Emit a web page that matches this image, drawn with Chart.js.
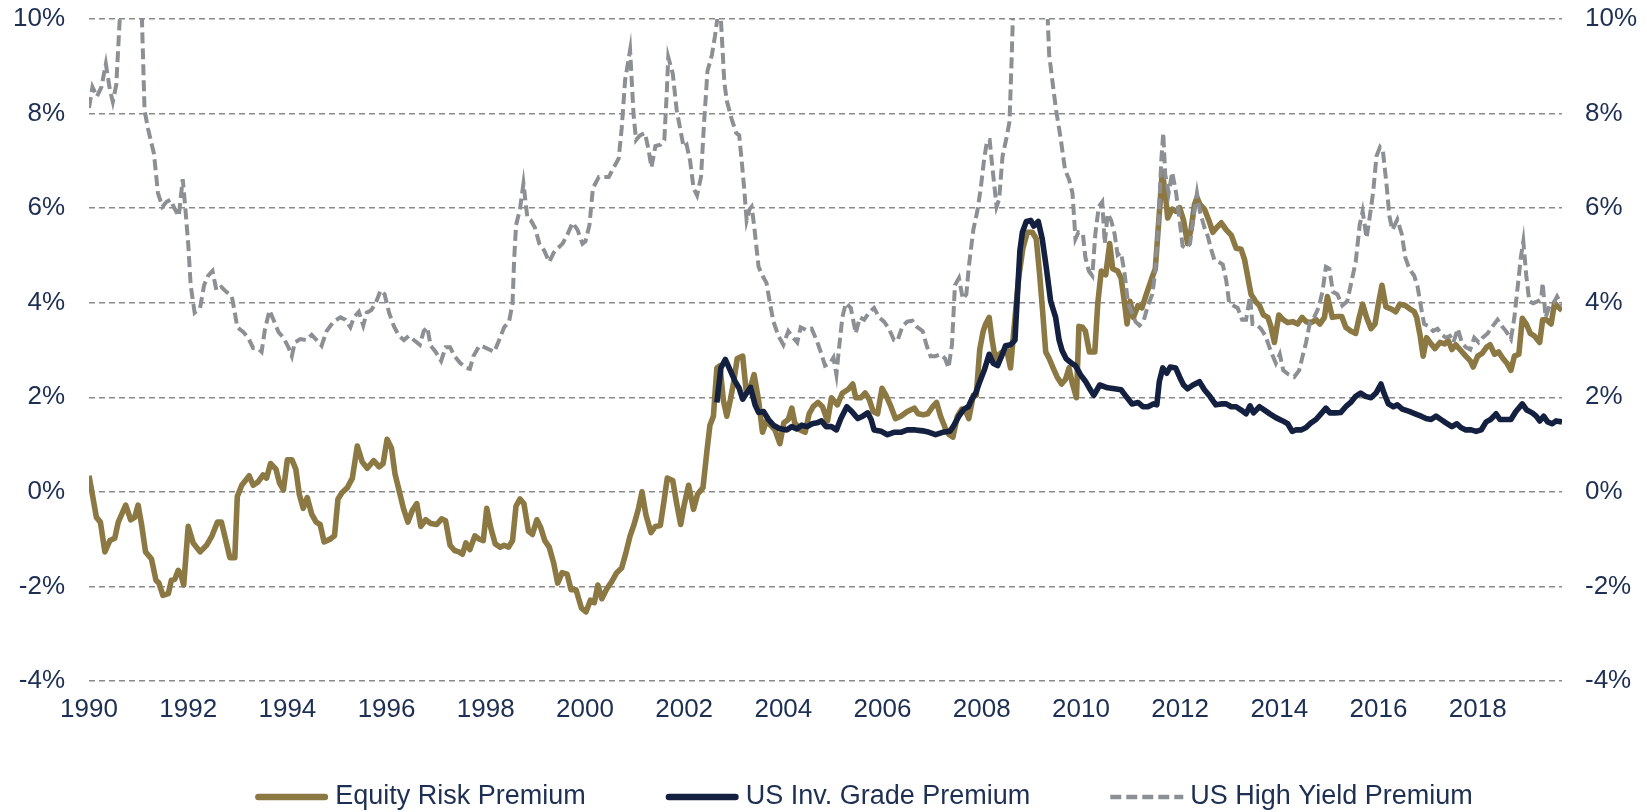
<!DOCTYPE html>
<html>
<head>
<meta charset="utf-8">
<script src="https://cdn.jsdelivr.net/npm/chart.js@4.4.1/dist/chart.umd.min.js"></script>
<style>
  html, body { margin: 0; padding: 0; background: #ffffff; }
  #wrap { width: 1647px; height: 812px; position: relative; }
</style>
</head>
<body>
<div id="wrap"><canvas id="c"></canvas></div>
<script>
// ---- DATA ([decimal year, percent]) ----
const seriesNames = ['Equity Risk Premium', 'US Inv. Grade Premium', 'US High Yield Premium'];

const equityRiskPremium = [
  [1990.00,0.34],[1990.05,0.05],[1990.15,-0.54],[1990.23,-0.64],[1990.32,-1.27],[1990.42,-1.03],[1990.52,-0.98],[1990.59,-0.64],[1990.74,-0.28],[1990.84,-0.59],[1990.92,-0.54],[1990.99,-0.28],
  [1991.06,-0.69],[1991.14,-1.27],[1991.26,-1.42],[1991.35,-1.87],[1991.41,-1.93],[1991.49,-2.19],[1991.60,-2.15],[1991.66,-1.87],[1991.73,-1.85],[1991.80,-1.66],[1991.85,-1.74],[1991.91,-1.97],
  [1992.00,-0.73],[1992.10,-1.08],[1992.24,-1.27],[1992.37,-1.13],[1992.48,-0.93],[1992.59,-0.64],[1992.67,-0.64],[1992.76,-1.03],[1992.84,-1.39],[1992.94,-1.39],[1992.99,-0.10],
  [1993.08,0.14],[1993.23,0.34],[1993.31,0.14],[1993.41,0.21],[1993.51,0.36],[1993.58,0.29],[1993.66,0.60],[1993.77,0.48],[1993.84,0.19],[1993.92,0.04],
  [1994.00,0.68],[1994.09,0.68],[1994.17,0.48],[1994.24,-0.05],[1994.32,-0.35],[1994.40,-0.12],[1994.49,-0.47],[1994.58,-0.64],[1994.66,-0.69],[1994.74,-1.06],[1994.86,-1.00],[1994.95,-0.93],
  [1995.02,-0.15],[1995.10,-0.02],[1995.21,0.09],[1995.31,0.29],[1995.41,0.97],[1995.51,0.63],[1995.61,0.50],[1995.74,0.66],[1995.85,0.53],[1995.93,0.60],
  [1996.01,1.11],[1996.10,0.92],[1996.17,0.38],[1996.25,0.04],[1996.34,-0.35],[1996.43,-0.64],[1996.52,-0.39],[1996.61,-0.25],[1996.69,-0.73],[1996.79,-0.59],[1996.89,-0.67],
  [1997.01,-0.69],[1997.11,-0.57],[1997.19,-0.61],[1997.28,-1.13],[1997.37,-1.24],[1997.46,-1.27],[1997.53,-1.32],[1997.60,-1.08],[1997.68,-1.22],[1997.78,-0.93],[1997.87,-1.00],[1997.95,-1.03],
  [1998.02,-0.35],[1998.10,-0.76],[1998.19,-1.10],[1998.29,-1.17],[1998.37,-1.13],[1998.46,-1.17],[1998.54,-1.03],[1998.61,-0.30],[1998.69,-0.15],[1998.77,-0.25],[1998.86,-0.83],[1998.94,-0.90],
  [1999.03,-0.59],[1999.11,-0.76],[1999.19,-1.03],[1999.28,-1.17],[1999.37,-1.51],[1999.45,-1.93],[1999.54,-1.71],[1999.64,-1.74],[1999.72,-2.07],[1999.82,-2.07],[1999.93,-2.46],
  [2000.02,-2.54],[2000.11,-2.29],[2000.19,-2.34],[2000.26,-1.97],[2000.34,-2.26],[2000.44,-2.05],[2000.54,-1.90],[2000.64,-1.71],[2000.74,-1.61],[2000.83,-1.27],[2000.91,-0.93],[2000.99,-0.69],
  [2001.08,-0.35],[2001.15,0.00],[2001.23,-0.49],[2001.33,-0.86],[2001.42,-0.73],[2001.52,-0.71],[2001.60,-0.15],[2001.66,0.29],[2001.77,0.24],[2001.85,-0.25],[2001.93,-0.69],
  [2002.00,-0.28],[2002.09,0.14],[2002.19,-0.37],[2002.27,-0.05],[2002.38,0.09],[2002.46,0.87],[2002.52,1.41],[2002.59,1.60],[2002.66,2.62],[2002.72,2.67],[2002.79,1.94],[2002.86,1.60],[2002.93,1.94],
  [2003.00,2.33],[2003.07,2.82],[2003.18,2.87],[2003.25,2.14],[2003.33,2.19],[2003.41,2.48],[2003.50,1.94],[2003.58,1.26],[2003.66,1.50],[2003.74,1.41],[2003.83,1.31],[2003.93,1.02],
  [2004.01,1.46],[2004.10,1.53],[2004.17,1.77],[2004.23,1.46],[2004.34,1.31],[2004.44,1.26],[2004.52,1.65],[2004.60,1.80],[2004.70,1.89],[2004.79,1.80],[2004.89,1.50],[2004.97,1.99],
  [2005.09,1.84],[2005.19,2.09],[2005.30,2.16],[2005.40,2.28],[2005.46,1.99],[2005.56,1.99],[2005.65,2.09],[2005.73,1.96],[2005.81,1.70],[2005.90,1.65],[2005.99,2.19],
  [2006.07,2.04],[2006.17,1.80],[2006.26,1.55],[2006.37,1.60],[2006.50,1.70],[2006.64,1.77],[2006.72,1.65],[2006.82,1.63],[2006.91,1.65],
  [2007.01,1.80],[2007.09,1.89],[2007.17,1.60],[2007.26,1.36],[2007.34,1.21],[2007.42,1.16],[2007.51,1.60],[2007.60,1.75],[2007.68,1.70],[2007.74,1.55],[2007.83,2.04],[2007.89,2.04],[2007.96,3.01],
  [2008.03,3.40],[2008.08,3.55],[2008.15,3.69],[2008.21,3.21],[2008.28,2.77],[2008.35,2.91],[2008.42,2.96],[2008.50,3.01],[2008.58,2.62],[2008.63,3.21],[2008.68,3.79],[2008.75,4.57],[2008.83,5.15],[2008.92,5.49],
  [2009.02,5.49],[2009.10,5.35],[2009.17,4.57],[2009.23,3.79],[2009.29,2.96],[2009.36,2.82],[2009.44,2.62],[2009.52,2.43],[2009.61,2.28],[2009.69,2.38],[2009.76,2.62],[2009.83,2.28],[2009.91,1.99],[2009.96,3.50],
  [2010.03,3.48],[2010.09,3.40],[2010.17,2.96],[2010.28,2.96],[2010.34,3.99],[2010.41,4.67],[2010.50,4.59],[2010.58,5.25],[2010.64,4.72],[2010.74,4.67],[2010.81,4.52],[2010.88,3.99],[2010.93,3.55],[2010.99,4.03],
  [2011.06,3.69],[2011.15,3.94],[2011.23,3.89],[2011.32,4.18],[2011.42,4.49],[2011.50,4.72],[2011.57,5.74],[2011.64,6.76],[2011.70,6.32],[2011.75,5.79],[2011.84,5.98],[2011.92,5.93],[2011.99,6.01],
  [2012.07,5.74],[2012.15,5.25],[2012.22,5.54],[2012.29,6.08],[2012.34,6.22],[2012.40,6.08],[2012.49,5.98],[2012.58,5.74],[2012.66,5.49],[2012.74,5.59],[2012.83,5.69],[2012.93,5.54],
  [2013.03,5.43],[2013.13,5.15],[2013.23,5.13],[2013.30,4.91],[2013.36,4.57],[2013.43,4.18],[2013.52,4.03],[2013.60,3.94],[2013.68,3.74],[2013.77,3.69],[2013.83,3.50],[2013.90,3.16],[2013.99,3.74],
  [2014.08,3.64],[2014.17,3.58],[2014.27,3.60],[2014.37,3.55],[2014.46,3.69],[2014.54,3.60],[2014.64,3.58],[2014.74,3.64],[2014.82,3.55],[2014.91,3.69],[2014.97,4.13],
  [2015.07,3.69],[2015.17,3.71],[2015.26,3.71],[2015.34,3.48],[2015.44,3.40],[2015.54,3.35],[2015.61,3.69],[2015.68,3.97],[2015.76,3.69],[2015.85,3.45],[2015.93,3.55],
  [2016.00,3.99],[2016.07,4.37],[2016.15,3.91],[2016.25,3.87],[2016.35,3.81],[2016.43,3.97],[2016.54,3.94],[2016.63,3.87],[2016.72,3.81],[2016.77,3.69],[2016.84,3.30],[2016.90,2.87],[2016.97,3.26],
  [2017.06,3.13],[2017.14,3.03],[2017.24,3.16],[2017.33,3.13],[2017.41,3.19],[2017.48,3.01],[2017.56,3.11],[2017.66,2.99],[2017.76,2.87],[2017.85,2.77],[2017.91,2.64],
  [2018.00,2.87],[2018.09,2.93],[2018.18,3.06],[2018.25,3.11],[2018.34,2.91],[2018.42,2.96],[2018.51,2.82],[2018.59,2.72],[2018.67,2.57],[2018.74,2.87],[2018.83,2.91],[2018.90,3.67],[2018.98,3.55],
  [2019.06,3.35],[2019.14,3.30],[2019.25,3.16],[2019.31,3.64],[2019.38,3.64],[2019.48,3.55],[2019.55,3.99],[2019.62,3.91],[2019.70,3.84]
];

const usInvGradePremium = [
  [2002.66,1.89],[2002.74,2.62],[2002.83,2.80],[2002.93,2.57],
  [2003.03,2.33],[2003.11,2.19],[2003.18,1.96],[2003.26,2.09],[2003.34,2.21],[2003.43,1.84],[2003.50,1.68],[2003.60,1.70],[2003.70,1.53],[2003.80,1.41],[2003.92,1.34],
  [2004.07,1.31],[2004.17,1.38],[2004.27,1.33],[2004.37,1.41],[2004.48,1.38],[2004.58,1.44],[2004.68,1.46],[2004.77,1.50],[2004.86,1.38],[2004.97,1.38],
  [2005.07,1.31],[2005.16,1.55],[2005.28,1.80],[2005.38,1.70],[2005.50,1.55],[2005.60,1.60],[2005.70,1.67],[2005.77,1.53],[2005.83,1.31],[2005.97,1.28],
  [2006.10,1.21],[2006.23,1.26],[2006.37,1.26],[2006.50,1.31],[2006.66,1.31],[2006.81,1.29],[2006.94,1.26],
  [2007.07,1.21],[2007.21,1.26],[2007.36,1.28],[2007.44,1.41],[2007.54,1.60],[2007.64,1.75],[2007.73,1.80],[2007.80,1.96],[2007.88,2.09],[2007.96,2.33],
  [2008.05,2.57],[2008.15,2.91],[2008.23,2.72],[2008.32,2.67],[2008.40,2.87],[2008.48,3.09],[2008.58,3.11],[2008.67,3.21],[2008.72,4.18],[2008.77,5.10],[2008.82,5.49],[2008.90,5.72],[2008.99,5.74],
  [2009.05,5.62],[2009.14,5.72],[2009.22,5.35],[2009.30,4.76],[2009.39,4.03],[2009.49,3.69],[2009.56,3.21],[2009.62,2.99],[2009.70,2.82],[2009.81,2.72],[2009.89,2.67],[2009.99,2.48],
  [2010.09,2.34],[2010.19,2.16],[2010.26,2.04],[2010.38,2.26],[2010.54,2.20],[2010.68,2.18],[2010.81,2.16],[2010.91,2.02],
  [2011.03,1.86],[2011.15,1.89],[2011.25,1.80],[2011.35,1.80],[2011.46,1.86],[2011.53,1.84],[2011.58,2.33],[2011.65,2.62],[2011.73,2.51],[2011.80,2.64],[2011.91,2.62],[2011.99,2.43],
  [2012.07,2.26],[2012.15,2.18],[2012.26,2.26],[2012.39,2.33],[2012.49,2.16],[2012.60,2.02],[2012.72,1.84],[2012.83,1.86],[2012.93,1.86],
  [2013.03,1.80],[2013.13,1.80],[2013.23,1.73],[2013.33,1.65],[2013.41,1.82],[2013.48,1.67],[2013.60,1.80],[2013.70,1.73],[2013.81,1.65],[2013.93,1.57],
  [2014.07,1.50],[2014.17,1.44],[2014.26,1.28],[2014.34,1.31],[2014.44,1.31],[2014.54,1.36],[2014.64,1.46],[2014.74,1.53],[2014.84,1.65],[2014.94,1.77],
  [2015.02,1.67],[2015.13,1.67],[2015.24,1.68],[2015.34,1.80],[2015.44,1.89],[2015.54,2.02],[2015.64,2.09],[2015.74,2.02],[2015.85,1.99],[2015.95,2.09],
  [2016.05,2.28],[2016.11,2.09],[2016.20,1.86],[2016.30,1.80],[2016.38,1.84],[2016.48,1.75],[2016.62,1.70],[2016.74,1.65],[2016.86,1.60],[2016.96,1.55],
  [2017.06,1.53],[2017.16,1.60],[2017.26,1.53],[2017.36,1.46],[2017.48,1.38],[2017.58,1.44],[2017.66,1.36],[2017.76,1.31],[2017.87,1.31],[2017.97,1.28],
  [2018.07,1.31],[2018.17,1.48],[2018.26,1.53],[2018.37,1.65],[2018.45,1.53],[2018.56,1.53],[2018.67,1.53],[2018.77,1.70],[2018.90,1.86],[2018.99,1.73],
  [2019.10,1.67],[2019.18,1.60],[2019.25,1.50],[2019.33,1.60],[2019.41,1.48],[2019.50,1.44],[2019.58,1.50],[2019.70,1.48]
];

const usHighYieldPremium = [
  [1990.00,8.12],[1990.07,8.56],[1990.16,8.36],[1990.25,8.56],[1990.34,9.05],[1990.42,8.51],[1990.48,8.25],[1990.55,8.61],[1990.67,11.0],[1990.77,12.2],[1990.87,12.6],[1990.97,12.0],
  [1991.04,11.0],[1991.12,8.07],[1991.19,7.68],[1991.31,7.15],[1991.39,6.32],[1991.48,6.03],[1991.56,6.13],[1991.64,6.18],[1991.73,5.98],[1991.81,5.83],[1991.89,6.61],[1991.94,6.03],
  [1992.00,5.25],[1992.05,4.37],[1992.13,3.79],[1992.24,3.89],[1992.32,4.37],[1992.40,4.57],[1992.49,4.67],[1992.57,4.26],[1992.67,4.33],[1992.77,4.23],[1992.88,4.13],[1992.94,3.79],[1992.99,3.48],
  [1993.11,3.38],[1993.21,3.26],[1993.31,3.04],[1993.41,3.03],[1993.48,2.96],[1993.55,3.45],[1993.64,3.84],[1993.72,3.64],[1993.82,3.38],[1993.92,3.26],
  [1994.02,3.06],[1994.09,2.87],[1994.15,3.16],[1994.26,3.23],[1994.38,3.21],[1994.49,3.32],[1994.59,3.21],[1994.69,3.09],[1994.79,3.40],[1994.93,3.60],
  [1995.07,3.69],[1995.17,3.64],[1995.27,3.48],[1995.34,3.69],[1995.44,3.81],[1995.53,3.52],[1995.60,3.79],[1995.69,3.84],[1995.78,3.99],[1995.88,4.26],[1995.96,4.18],
  [1996.05,3.79],[1996.15,3.50],[1996.25,3.30],[1996.35,3.21],[1996.45,3.30],[1996.55,3.21],[1996.67,3.11],[1996.75,3.40],[1996.82,3.48],[1996.89,3.09],[1996.99,2.96],
  [1997.10,2.77],[1997.19,3.06],[1997.28,3.06],[1997.37,2.87],[1997.49,2.72],[1997.60,2.62],[1997.68,2.60],[1997.75,2.87],[1997.87,3.09],[1997.97,3.06],
  [1998.07,3.01],[1998.17,2.96],[1998.27,3.21],[1998.37,3.48],[1998.47,3.60],[1998.54,3.99],[1998.57,4.86],[1998.61,5.64],[1998.69,5.98],[1998.76,6.52],[1998.84,5.79],[1998.91,5.74],[1998.99,5.59],
  [1999.08,5.25],[1999.18,5.10],[1999.28,4.86],[1999.37,5.06],[1999.45,5.15],[1999.55,5.25],[1999.65,5.45],[1999.75,5.69],[1999.85,5.54],[1999.95,5.25],
  [2000.01,5.30],[2000.09,5.64],[2000.16,6.42],[2000.28,6.66],[2000.38,6.66],[2000.48,6.66],[2000.58,6.86],[2000.68,7.05],[2000.74,7.68],[2000.81,8.71],[2000.91,9.34],[2000.98,7.98],
  [2001.03,7.44],[2001.11,7.54],[2001.21,7.59],[2001.28,7.25],[2001.34,6.86],[2001.42,7.31],[2001.52,7.34],[2001.60,7.44],[2001.65,8.46],[2001.68,9.19],[2001.77,8.85],[2001.85,8.07],[2001.92,7.68],[2001.99,7.29],
  [2002.05,7.34],[2002.12,7.00],[2002.19,6.42],[2002.26,6.27],[2002.34,6.66],[2002.40,7.78],[2002.47,8.90],[2002.56,9.24],[2002.62,9.63],[2002.72,10.4],[2002.81,8.66],[2002.86,8.27],[2002.96,7.88],
  [2003.05,7.59],[2003.11,7.54],[2003.16,7.00],[2003.21,6.42],[2003.26,5.74],[2003.32,5.98],[2003.36,6.03],[2003.41,5.64],[2003.50,4.76],[2003.58,4.57],[2003.66,4.42],[2003.73,3.99],[2003.80,3.60],[2003.90,3.30],
  [2004.00,3.11],[2004.10,3.40],[2004.20,3.26],[2004.28,3.16],[2004.35,3.48],[2004.47,3.42],[2004.57,3.45],[2004.67,3.21],[2004.77,2.91],[2004.84,2.67],[2004.94,2.72],
  [2005.01,2.84],[2005.07,2.48],[2005.13,3.11],[2005.19,3.69],[2005.26,3.99],[2005.36,3.89],[2005.46,3.35],[2005.54,3.69],[2005.63,3.64],[2005.73,3.79],[2005.83,3.89],[2005.93,3.69],
  [2006.03,3.60],[2006.13,3.45],[2006.23,3.21],[2006.30,3.19],[2006.40,3.50],[2006.50,3.60],[2006.60,3.62],[2006.68,3.50],[2006.81,3.40],[2006.89,3.09],[2006.97,2.87],
  [2007.06,2.87],[2007.17,2.91],[2007.26,2.82],[2007.33,2.62],[2007.40,3.11],[2007.46,4.37],[2007.54,4.52],[2007.62,4.08],[2007.69,4.18],[2007.74,4.76],[2007.83,5.54],[2007.91,5.93],[2007.98,6.42],
  [2008.05,7.05],[2008.11,7.44],[2008.16,7.44],[2008.21,6.91],[2008.30,6.03],[2008.35,6.18],[2008.42,7.10],[2008.50,7.49],[2008.56,7.83],[2008.60,9.05],[2008.70,12.5],[2008.80,16.5],[2008.90,19.5],
  [2009.00,18.5],[2009.10,16.0],[2009.20,13.0],[2009.30,10.8],[2009.36,9.24],[2009.44,8.56],[2009.50,8.07],[2009.59,7.49],[2009.68,6.81],[2009.76,6.61],[2009.83,6.32],[2009.89,5.35],[2009.95,5.49],
  [2010.04,5.45],[2010.09,4.96],[2010.16,4.67],[2010.23,4.57],[2010.29,5.45],[2010.36,6.03],[2010.43,6.13],[2010.48,5.25],[2010.54,5.88],[2010.61,5.74],[2010.68,5.45],[2010.74,5.01],[2010.81,5.06],[2010.88,4.62],[2010.95,3.99],
  [2011.01,3.84],[2011.10,3.60],[2011.18,3.52],[2011.26,3.60],[2011.35,3.94],[2011.44,4.18],[2011.50,4.67],[2011.57,5.83],[2011.62,7.00],[2011.66,7.59],[2011.70,6.71],[2011.77,6.32],[2011.84,6.76],[2011.92,6.32],[2011.99,5.74],
  [2012.05,5.20],[2012.12,5.15],[2012.20,5.25],[2012.27,5.83],[2012.34,6.32],[2012.40,5.93],[2012.49,5.59],[2012.56,5.40],[2012.62,5.15],[2012.69,4.91],[2012.78,4.86],[2012.86,4.81],[2012.93,4.47],[2012.99,3.99],
  [2013.07,3.94],[2013.16,3.89],[2013.25,3.64],[2013.33,3.64],[2013.41,4.13],[2013.46,3.55],[2013.53,3.55],[2013.63,3.45],[2013.72,3.30],[2013.80,3.06],[2013.87,2.87],[2013.93,2.72],
  [2014.01,2.91],[2014.08,2.57],[2014.19,2.48],[2014.30,2.43],[2014.40,2.57],[2014.47,2.87],[2014.54,3.16],[2014.62,3.60],[2014.70,3.69],[2014.79,3.89],[2014.87,4.23],[2014.94,4.76],
  [2015.01,4.72],[2015.08,4.23],[2015.17,4.18],[2015.27,3.94],[2015.37,4.03],[2015.44,4.37],[2015.54,4.86],[2015.62,5.64],[2015.68,5.93],[2015.76,5.37],[2015.82,5.79],[2015.89,6.32],[2015.96,7.10],
  [2016.03,7.29],[2016.09,7.20],[2016.16,6.52],[2016.22,5.83],[2016.28,5.54],[2016.38,5.76],[2016.47,5.45],[2016.54,4.96],[2016.62,4.72],[2016.72,4.57],[2016.79,4.33],[2016.86,3.89],[2016.92,3.55],
  [2017.01,3.50],[2017.10,3.40],[2017.19,3.45],[2017.28,3.32],[2017.36,3.26],[2017.44,3.30],[2017.51,3.16],[2017.60,3.45],[2017.68,3.16],[2017.76,3.06],[2017.85,3.01],[2017.93,3.26],
  [2018.02,3.16],[2018.10,3.26],[2018.20,3.35],[2018.30,3.50],[2018.40,3.64],[2018.49,3.50],[2018.57,3.40],[2018.67,3.23],[2018.74,3.69],[2018.81,4.37],[2018.87,4.96],[2018.92,5.30],[2018.98,4.57],
  [2019.04,4.03],[2019.12,3.99],[2019.21,4.03],[2019.28,4.08],[2019.31,4.42],[2019.37,3.69],[2019.45,3.94],[2019.53,3.99],[2019.60,4.13],[2019.65,4.03],[2019.70,3.94]
];

const xTickYears = [1990,1992,1994,1996,1998,2000,2002,2004,2006,2008,2010,2012,2014,2016,2018];
const yTickValues = [-4,-2,0,2,4,6,8,10];

// ---- STYLE ----
const FONT = '"Liberation Sans", Arial, Helvetica, sans-serif';
const TEXT_COLOR = '#1d2f52';
const toPoints = arr => arr.map(([x, y]) => ({ x, y }));

const customLegend = {
  id: 'customLegend',
  afterDraw(chart, args, opts) {
    const ctx = chart.ctx;
    ctx.save();
    ctx.font = opts.fontSize + 'px ' + FONT;
    const items = chart.data.datasets.map(ds => ({ ds, w: ctx.measureText(ds.label).width }));
    const total = items.reduce((s, it) => s + opts.swatch + opts.gap + it.w, 0) + opts.spacing * (items.length - 1);
    let x = opts.centerX - total / 2;
    const y = opts.y;
    items.forEach(it => {
      ctx.beginPath();
      ctx.strokeStyle = it.ds.borderColor;
      ctx.lineWidth = it.ds.legendWidth || it.ds.borderWidth;
      const dash = it.ds.borderDash || [];
      ctx.setLineDash(dash);
      ctx.lineCap = dash.length ? 'butt' : 'round';
      const pad = dash.length ? 0 : ctx.lineWidth / 2;
      ctx.moveTo(x + pad, y);
      ctx.lineTo(x + opts.swatch - pad, y);
      ctx.stroke();
      ctx.setLineDash([]);
      x += opts.swatch + opts.gap;
      ctx.fillStyle = opts.color;
      ctx.textBaseline = 'middle';
      ctx.textAlign = 'left';
      ctx.fillText(it.ds.label, x, y);
      x += it.w + opts.spacing;
    });
    ctx.restore();
  }
};

const yTickCfg = {
  font: { family: FONT, size: 26 },
  color: TEXT_COLOR,
  stepSize: 2,
  callback: v => v + '%'
};
const noVertPadding = (width) => s => { s.width = width; s.paddingTop = 0; s.paddingBottom = 0; };

new Chart(document.getElementById('c'), {
  type: 'line',
  data: {
    datasets: [
      {
        label: seriesNames[0],
        data: toPoints(equityRiskPremium),
        borderColor: '#8b7843',
        borderWidth: 5.6,
        legendWidth: 6.5,
        pointRadius: 0,
        tension: 0,
        borderJoinStyle: 'round',
        order: 3
      },
      {
        label: seriesNames[1],
        data: toPoints(usInvGradePremium),
        borderColor: '#14203f',
        borderWidth: 5.6,
        legendWidth: 6.5,
        pointRadius: 0,
        tension: 0,
        borderJoinStyle: 'round',
        order: 2
      },
      {
        label: seriesNames[2],
        data: toPoints(usHighYieldPremium),
        borderColor: '#8c8f93',
        borderWidth: 4,
        legendWidth: 4.5,
        borderDash: [11, 5],
        pointRadius: 0,
        tension: 0,
        order: 1
      }
    ]
  },
  options: {
    responsive: true,
    maintainAspectRatio: false,
    animation: false,
    events: [],
    layout: { padding: { top: 19, left: 0, right: 0, bottom: 0 } },
    plugins: {
      legend: { display: false },
      tooltip: { enabled: false },
      customLegend: { fontSize: 27, swatch: 73, gap: 7, spacing: 80, centerX: 864, y: 797, color: TEXT_COLOR }
    },
    scales: {
      x: {
        type: 'linear',
        min: 1990,
        max: 2019.70,
        afterBuildTicks: scale => { scale.ticks = xTickYears.map(v => ({ value: v })); },
        ticks: {
          font: { family: FONT, size: 26 },
          color: TEXT_COLOR,
          padding: 5,
          maxRotation: 0,
          autoSkip: false,
          callback: v => String(v)
        },
        grid: { display: false },
        border: { display: false },
        afterFit: s => { s.height = 131; }
      },
      y: {
        position: 'left',
        min: -4,
        max: 10,
        afterBuildTicks: scale => { scale.ticks = yTickValues.map(v => ({ value: v })); },
        ticks: Object.assign({ padding: 24 }, yTickCfg),
        grid: { color: '#8a8a8a', lineWidth: 1.4, drawTicks: false },
        border: { display: false, dash: [6, 4] },
        afterFit: noVertPadding(89)
      },
      y2: {
        position: 'right',
        min: -4,
        max: 10,
        afterBuildTicks: scale => { scale.ticks = yTickValues.map(v => ({ value: v })); },
        ticks: Object.assign({ padding: 23 }, yTickCfg),
        grid: { display: false, drawTicks: false },
        border: { display: false },
        afterFit: noVertPadding(85)
      }
    }
  },
  plugins: [customLegend]
});
</script>
</body>
</html>
